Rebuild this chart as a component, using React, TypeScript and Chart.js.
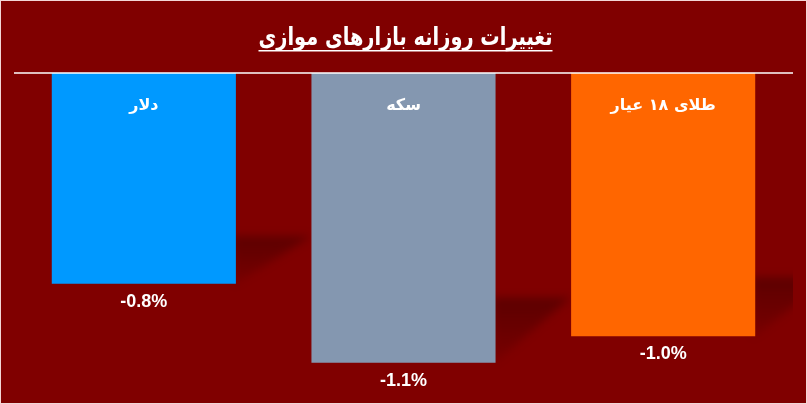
import React, { useEffect, useRef } from 'react';
import { Chart, registerables } from 'chart.js';

Chart.register(...registerables);

const chartTitle = 'تغییرات روزانه بازارهای موازی';
const categories = ['دلار', 'سکه', 'طلای ۱۸ عیار'];
const values = [-0.8, -1.1, -1.0];
const barColors = ['#0099FF', '#8497B0', '#FF6600'];
const yMin = -1.2;
const yMax = 0;

const BG = '#800000';

const decorPlugin = {
  id: 'decor',
  beforeDraw(chart: any) {
    const { ctx, width, height } = chart;
    ctx.save();
    ctx.fillStyle = BG;
    ctx.fillRect(0, 0, width, height);
    ctx.strokeStyle = '#F2D6D6';
    ctx.lineWidth = 1;
    ctx.strokeRect(0.5, 0.5, width - 1, height - 1);
    // title (horizontally condensed to the reference width)
    ctx.fillStyle = '#FFFFFF';
    ctx.font = 'bold 25px "DejaVu Sans"';
    ctx.textAlign = 'center';
    ctx.textBaseline = 'alphabetic';
    ctx.direction = 'rtl';
    const cx = width / 2 + 2;
    const targetW = 294;
    const w = ctx.measureText(chartTitle).width;
    const sx = targetW / w;
    ctx.save();
    ctx.translate(cx, 45);
    ctx.scale(sx, 1);
    ctx.fillText(chartTitle, 0, 0);
    ctx.restore();
    ctx.fillRect(cx - targetW / 2, 50, targetW, 1.5);
    ctx.restore();
  },
  beforeDatasetsDraw(chart: any) {
    const { ctx, chartArea } = chart;
    const meta = chart.getDatasetMeta(0);
    ctx.save();
    ctx.beginPath();
    ctx.rect(chartArea.left, chartArea.top, chartArea.right - chartArea.left, chartArea.bottom - chartArea.top);
    ctx.clip();
    ctx.filter = 'blur(4px)';
    meta.data.forEach((el: any) => {
      const right = el.x + el.width / 2;
      const bottom = el.y;
      const h = el.y - el.base;
      const sh = h * 0.225;
      const g = ctx.createLinearGradient(0, bottom - sh, 0, bottom);
      g.addColorStop(0, 'rgba(50,0,0,0.45)');
      g.addColorStop(1, 'rgba(50,0,0,0.1)');
      ctx.fillStyle = g;
      ctx.beginPath();
      ctx.moveTo(right - 3, bottom - sh);
      ctx.lineTo(right + 75, bottom - sh);
      ctx.lineTo(right - 3, bottom + 2);
      ctx.closePath();
      ctx.fill();
    });
    ctx.restore();
  },
  afterDatasetsDraw(chart: any) {
    const { ctx, chartArea, scales } = chart;
    const meta = chart.getDatasetMeta(0);
    const zeroY = scales.y.getPixelForValue(0);
    ctx.save();
    ctx.strokeStyle = '#FFFFFF';
    ctx.lineWidth = 1.5;
    ctx.beginPath();
    ctx.moveTo(chartArea.left, zeroY);
    ctx.lineTo(chartArea.right, zeroY);
    ctx.stroke();
    ctx.fillStyle = '#FFFFFF';
    ctx.textAlign = 'center';
    ctx.textBaseline = 'middle';
    meta.data.forEach((el: any, i: number) => {
      ctx.direction = 'rtl';
      ctx.font = 'bold 16px "DejaVu Sans"';
      ctx.fillText(categories[i], el.x, el.base + 33);
      ctx.direction = 'ltr';
      ctx.font = 'bold 18px "Liberation Sans"';
      ctx.fillText(values[i].toFixed(1) + '%', el.x, el.y + 18);
    });
    ctx.restore();
  },
};

export default function App() {
  const ref = useRef<HTMLCanvasElement>(null);
  useEffect(() => {
    if (!ref.current) return;
    const chart = new Chart(ref.current, {
      type: 'bar',
      data: {
        labels: categories,
        datasets: [
          {
            data: values,
            backgroundColor: barColors,
            borderWidth: 0,
            categoryPercentage: 1,
            barPercentage: 0.709,
          },
        ],
      },
      options: {
        responsive: false,
        animation: false,
        events: [],
        layout: { padding: { left: 14, right: 14, top: 73, bottom: 15 } },
        plugins: {
          legend: { display: false },
          title: { display: false },
          tooltip: { enabled: false },
        },
        scales: {
          x: { display: false },
          y: { display: false, min: yMin, max: yMax },
        },
      },
      plugins: [decorPlugin],
    });
    return () => chart.destroy();
  }, []);
  return (
    <div style={{ position: 'absolute', left: 0, top: 0, width: 807, height: 404 }}>
      <canvas ref={ref} width={807} height={404} style={{ display: 'block', width: 807, height: 404 }} />
    </div>
  );
}
